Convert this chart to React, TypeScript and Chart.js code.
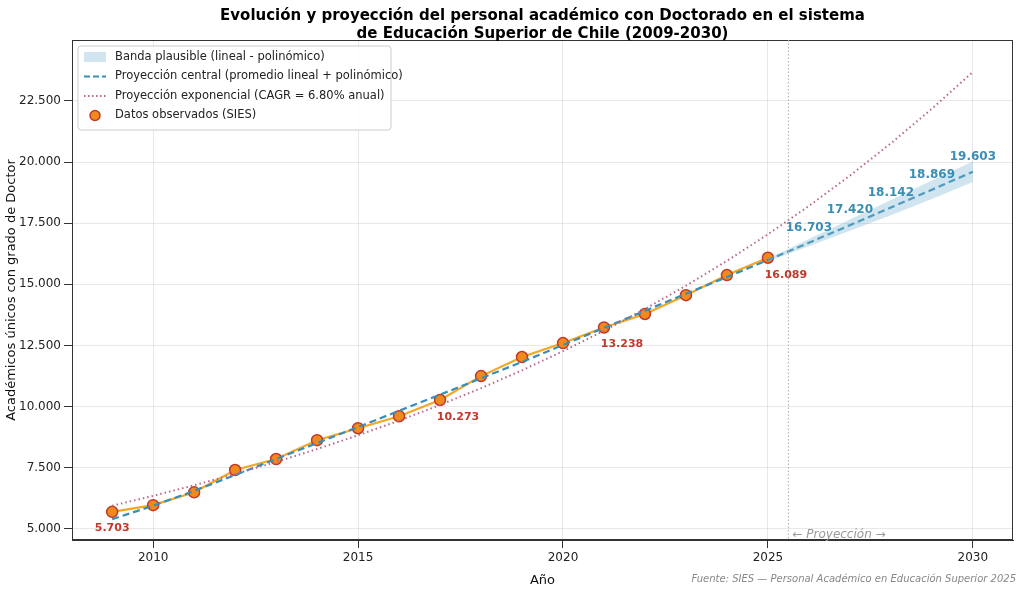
import React, { useEffect, useRef } from "react";
import { Chart, registerables } from "chart.js";
Chart.register(...registerables);

const obsYears = [2009,2010,2011,2012,2013,2014,2015,2016,2017,2018,2019,2020,2021,2022,2023,2024,2025];
const obsValues = [5703,5975,6500,7410,7860,8630,9120,9610,10273,11250,12030,12600,13238,13790,14560,15380,16089];
const fitYears = [2009,2010,2011,2012,2013,2014,2015,2016,2017,2018,2019,2020,2021,2022,2023,2024,2025,2026,2027,2028,2029,2030];
const centralValues = [5400,5950,6560,7210,7860,8510,9170,9830,10490,11160,11830,12520,13220,13920,14620,15300,16000,16703,17420,18142,18869,19603];
const expValues = [5950,6355,6787,7248,7741,8268,8830,9430,10071,10756,11487,12268,13103,13994,14945,15961,17047,18206,19444,20766,22178,23686];
const bandYears = [2025,2026,2027,2028,2029,2030];
const bandLower = [15950,16560,17190,17830,18490,19190];
const bandUpper = [16050,16850,17650,18450,19250,20020];
const projYears = [2026,2027,2028,2029,2030];
const projLabels = [16703,17420,18142,18869,19603];
const obsLabelYears = [2009,2017,2021,2025];

const fmt = (v: number) => Math.round(v).toString().replace(/\B(?=(\d{3})+(?!\d))/g, ".");
const BLUE = "#3a8db5";
const RED = "#c0392b";

const overlay = {
  id: "overlay",
  afterDatasetsDraw(chart: any) {
    const { ctx, chartArea: a, scales: { x, y } } = chart;
    ctx.save();
    ctx.strokeStyle = "#333"; ctx.lineWidth = 1;
    ctx.strokeRect(a.left + 0.5, a.top + 0.5, a.right - a.left - 1, a.bottom - a.top - 1);
    ctx.strokeStyle = "#aaaaaa"; ctx.setLineDash([1.5, 2]);
    const vx = x.getPixelForValue(2025.5);
    ctx.beginPath(); ctx.moveTo(vx, a.top); ctx.lineTo(vx, a.bottom); ctx.stroke();
    ctx.setLineDash([]);
    ctx.fillStyle = "#999999"; ctx.font = "italic 12px 'DejaVu Sans'"; ctx.textAlign = "left"; ctx.textBaseline = "alphabetic";
    ctx.fillText("← Proyección →", vx + 4, a.bottom - 2);
    ctx.font = "bold 11px 'DejaVu Sans'"; ctx.fillStyle = RED;
    obsLabelYears.forEach((yr) => {
      const v = obsValues[obsYears.indexOf(yr)];
      const px = x.getPixelForValue(yr), py = y.getPixelForValue(v);
      ctx.textAlign = "center";
      if (yr === 2009) ctx.fillText(fmt(v), px, py + 19);
      else ctx.fillText(fmt(v), px + 18, py + 20);
    });
    ctx.font = "bold 12px 'DejaVu Sans'"; ctx.fillStyle = BLUE; ctx.textAlign = "center";
    projYears.forEach((yr, i) => {
      const px = x.getPixelForValue(yr), py = y.getPixelForValue(projLabels[i]);
      ctx.fillText(fmt(projLabels[i]), px, py - 12);
    });
    const lx = a.left + 6, ly = a.top + 6, w = 313, h = 84;
    ctx.fillStyle = "rgba(255,255,255,0.85)"; ctx.strokeStyle = "#cccccc"; ctx.lineWidth = 1;
    ctx.beginPath(); ctx.roundRect(lx, ly, w, h, 3); ctx.fill(); ctx.stroke();
    const items = ["Banda plausible (lineal - polinómico)", "Proyección central (promedio lineal + polinómico)", "Proyección exponencial (CAGR = 6.80% anual)", "Datos observados (SIES)"];
    ctx.font = "11.5px 'DejaVu Sans'"; ctx.textAlign = "left"; ctx.textBaseline = "middle";
    items.forEach((t, i) => {
      const cy = ly + 11 + i * 19.5;
      const sx = lx + 6;
      if (i === 0) { ctx.fillStyle = "rgba(120,180,210,0.35)"; ctx.fillRect(sx, cy - 5, 22, 10); }
      if (i === 1) { ctx.strokeStyle = BLUE; ctx.lineWidth = 2; ctx.setLineDash([6, 3]); ctx.beginPath(); ctx.moveTo(sx, cy); ctx.lineTo(sx + 22, cy); ctx.stroke(); ctx.setLineDash([]); }
      if (i === 2) { ctx.strokeStyle = "#b5688f"; ctx.lineWidth = 2; ctx.setLineDash([1.5, 2.5]); ctx.beginPath(); ctx.moveTo(sx, cy); ctx.lineTo(sx + 22, cy); ctx.stroke(); ctx.setLineDash([]); }
      if (i === 3) { ctx.fillStyle = "#f08a1c"; ctx.strokeStyle = "#c0392b"; ctx.lineWidth = 1.5; ctx.beginPath(); ctx.arc(sx + 11, cy, 5, 0, Math.PI * 2); ctx.fill(); ctx.stroke(); }
      ctx.fillStyle = "#222"; ctx.fillText(t, sx + 31, cy);
    });
    ctx.fillStyle = "#000"; ctx.font = "bold 15px 'DejaVu Sans'"; ctx.textAlign = "center"; ctx.textBaseline = "alphabetic";
    ctx.fillText("Evolución y proyección del personal académico con Doctorado en el sistema", (a.left + a.right) / 2, 20);
    ctx.fillText("de Educación Superior de Chile (2009-2030)", (a.left + a.right) / 2, 38);
    ctx.fillStyle = "#888"; ctx.font = "italic 10px 'DejaVu Sans'"; ctx.textAlign = "right";
    ctx.fillText("Fuente: SIES — Personal Académico en Educación Superior 2025", 1016, 582);
    ctx.restore();
  },
};

export default function App() {
  const ref = useRef<HTMLCanvasElement>(null);
  useEffect(() => {
    const pts = (xs: number[], ys: number[]) => xs.map((xv, i) => ({ x: xv, y: ys[i] }));
    const chart = new Chart(ref.current!, {
      type: "line",
      data: {
        datasets: [
          { data: pts(bandYears, bandUpper), borderWidth: 0, pointRadius: 0, fill: "+1", backgroundColor: "rgba(120,180,210,0.35)", borderColor: "rgba(120,180,210,0.5)" },
          { data: pts(bandYears, bandLower), borderWidth: 0, pointRadius: 0, fill: false, borderColor: "rgba(120,180,210,0.5)" },
          { data: pts(fitYears, expValues), borderColor: "#b5688f", borderWidth: 2, borderDash: [1.5, 3], pointRadius: 0, fill: false },
          { data: pts(fitYears, centralValues), borderColor: BLUE, borderWidth: 2.2, borderDash: [7, 4], pointRadius: 0, fill: false },
          { data: pts(obsYears, obsValues), borderColor: "#f5a623", borderWidth: 2.2, pointRadius: 5.5, pointBackgroundColor: "#f08a1c", pointBorderColor: "#c0392b", pointBorderWidth: 1.5, fill: false },
        ],
      },
      options: {
        animation: false, responsive: false,
        layout: { padding: { top: 40, right: 11, left: 0, bottom: 0 } },
        plugins: { legend: { display: false }, tooltip: { enabled: false } },
        scales: {
          x: {
            type: "linear", min: 2008.02, max: 2030.98,
            afterFit: (s: any) => { s.height = 52; },
            afterBuildTicks: (s: any) => { s.ticks = [2010, 2015, 2020, 2025, 2030].map((v) => ({ value: v })); },
            ticks: { color: "#222", font: { size: 12, family: "DejaVu Sans" }, callback: (v: any) => String(v) },
            grid: { color: "rgba(0,0,0,0.09)", tickColor: "#333" },
            border: { color: "#333" },
            title: { display: true, text: "Año", color: "#111", font: { size: 13, family: "DejaVu Sans" }, padding: { top: 0 } },
          },
          y: {
            min: 4550, max: 24990,
            afterFit: (s: any) => { s.width = 72; },
            afterBuildTicks: (s: any) => { s.ticks = [5000, 7500, 10000, 12500, 15000, 17500, 20000, 22500].map((v) => ({ value: v })); },
            ticks: { color: "#222", font: { size: 12, family: "DejaVu Sans" }, callback: (v: any) => fmt(v) },
            grid: { color: "rgba(0,0,0,0.09)", tickColor: "#333" },
            border: { color: "#333" },
            title: { display: true, text: "Académicos únicos con grado de Doctor", color: "#111", font: { size: 13, family: "DejaVu Sans" }, padding: { bottom: 2 } },
          },
        },
      },
      plugins: [overlay],
    } as any);
    return () => chart.destroy();
  }, []);
  return (
    <div style={{ position: "fixed", left: 0, top: 0, width: 1024, height: 592, background: "#fff" }}>
      <canvas ref={ref} width={1024} height={592} />
    </div>
  );
}
